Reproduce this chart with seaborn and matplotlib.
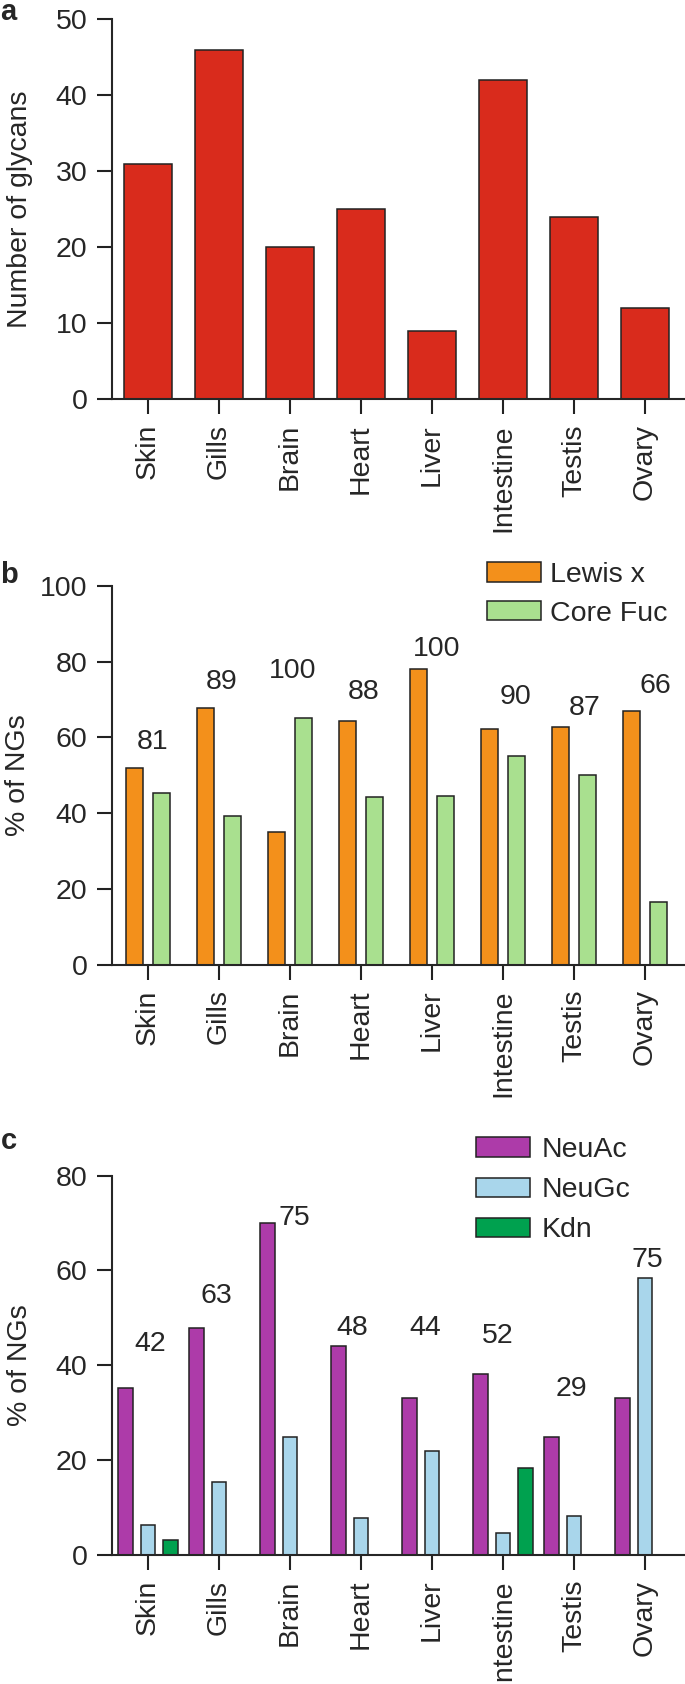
import numpy as np
import pandas as pd
import seaborn as sns
import matplotlib.pyplot as plt
from matplotlib.patches import Patch

tissues = ['Skin', 'Gills', 'Brain', 'Heart', 'Liver', 'Intestine', 'Testis', 'Ovary']

# a - number of glycans per tissue
glycans = [31, 46, 20, 25, 9, 42, 24, 12]

# b - fucosylation (% of NGs)
lewis_x = [51.8, 67.7, 35.1, 64.3, 78.1, 62.2, 62.7, 66.9]
core_fuc = [45.2, 39.2, 65.2, 44.3, 44.4, 55.1, 50.1, 16.6]
fuc_total = ['81', '89', '100', '88', '100', '90', '87', '66']

# c - sialic acids (% of NGs)
neuac = [35.3, 47.8, 69.9, 44.0, 33.1, 38.1, 24.9, 33.1]
neugc = [6.4, 15.3, 24.9, 7.9, 22.0, 4.7, 8.2, 58.3]
kdn = [3.2, 0, 0, 0, 0, 18.3, 0, 0]
sia_total = ['42', '63', '75', '48', '44', '52', '29', '75']

# where the total labels sit (y value, x shift)
lab_b_y = [58.9, 74.7, 77.6, 71.9, 83.4, 70.6, 67.7, 73.7]
lab_b_dx = [0.07, 0.03, 0.04, 0.04, 0.06, 0.18, 0.15, 0.14]
lab_c_y = [44.5, 54.6, 71, 47.8, 47.8, 46.2, 35, 62.2]
lab_c_dx = [0.03, -0.03, 0.06, -0.12, -0.1, -0.08, -0.03, 0.03]

red = '#D92B1C'
fuc_colors = {'Lewis x': '#F3901B', 'Core Fuc': '#A9E08F'}
sia_colors = {'NeuAc': '#AD3BA9', 'NeuGc': '#A9D6EB', 'Kdn': '#00A14F'}

FS = 20.5

sns.set_style('ticks')
plt.rcParams['font.family'] = ['Liberation Sans', 'DejaVu Sans']
plt.rcParams['font.size'] = FS
plt.rcParams['axes.linewidth'] = 1.5

W, H = 685, 1684
fig = plt.figure(figsize=(W / 100, H / 100), dpi=100)

def px_axes(left, top, bottom):
    return fig.add_axes([left / W, 1 - bottom / H, 1 - left / W, (bottom - top) / H])

def style(ax, ymax, step, ylabel):
    ax.set_ylim(0, ymax)
    ax.set_xlim(-0.507, 7.563)
    ax.set_yticks(np.arange(0, ymax + 1, step))
    ax.set_xlabel('')
    ax.set_ylabel(ylabel, fontsize=FS)
    ax.yaxis.set_label_coords(-0.138, 0.5)
    ax.tick_params(length=10.8, width=1.5, pad=7, labelsize=FS, color='#222222')
    ax.tick_params(axis='x', labelrotation=90)
    for s in ['top', 'right']:
        ax.spines[s].set_visible(False)

edge = dict(edgecolor='#222222', linewidth=1.1)

# panel a
ax1 = px_axes(112, 19.3, 399.3)
df_a = pd.DataFrame({'tissue': tissues, 'n': glycans})
sns.barplot(data=df_a, x='tissue', y='n', color=red, width=0.67, saturation=1, ax=ax1, **edge)
style(ax1, 50, 10, 'Number of glycans')

# panel b
ax2 = px_axes(112, 586, 964.5)
df_b = pd.DataFrame({'tissue': tissues * 2,
                     'type': ['Lewis x'] * 8 + ['Core Fuc'] * 8,
                     'pct': lewis_x + core_fuc})
sns.barplot(data=df_b, x='tissue', y='pct', hue='type', hue_order=list(fuc_colors),
            palette=fuc_colors, width=0.75, gap=0.34, saturation=1, legend=False,
            errorbar=None, ax=ax2, **edge)
style(ax2, 100, 20, '% of NGs')
ax2.yaxis.set_label_coords(-0.141, 0.5)
for i, t in enumerate(fuc_total):
    ax2.text(i + lab_b_dx[i], lab_b_y[i], t, ha='center', va='center', fontsize=FS)
ax2.legend([Patch(facecolor=c, **edge) for c in fuc_colors.values()], list(fuc_colors),
           loc='upper left', bbox_to_anchor=(487 / W, 1 - 562 / H), bbox_transform=fig.transFigure,
           frameon=False, borderpad=0, borderaxespad=0, handlelength=1.9, handleheight=0.65,
           handletextpad=0.3, labelspacing=0.45, fontsize=FS)

# panel c
ax3 = px_axes(112, 1175.5, 1555)
df_c = pd.DataFrame({'tissue': tissues * 3,
                     'sia': ['NeuAc'] * 8 + ['NeuGc'] * 8 + ['Kdn'] * 8,
                     'pct': neuac + neugc + kdn})
df_c = df_c[df_c['pct'] > 0]
sns.barplot(data=df_c, x='tissue', y='pct', hue='sia', hue_order=list(sia_colors),
            order=tissues, palette=sia_colors, width=0.942, gap=0.33, saturation=1,
            legend=False, errorbar=None, ax=ax3, **edge)
style(ax3, 80, 20, '% of NGs')
for i, t in enumerate(sia_total):
    ax3.text(i + lab_c_dx[i], lab_c_y[i], t, ha='center', va='center', fontsize=FS)
ax3.legend([Patch(facecolor=c, **edge) for c in sia_colors.values()], list(sia_colors),
           loc='upper left', bbox_to_anchor=(476 / W, 1 - 1137 / H), bbox_transform=fig.transFigure,
           frameon=False, borderpad=0, borderaxespad=0, handlelength=1.9, handleheight=0.65,
           handletextpad=0.4, labelspacing=0.5, fontsize=FS)

# panel letters
for letter, base in [('a', 20), ('b', 583), ('c', 1149)]:
    fig.text(0.5 / W, 1 - base / H, letter, fontsize=21, fontweight='bold', va='baseline', ha='left')

fig.savefig('out.png', dpi=100)
